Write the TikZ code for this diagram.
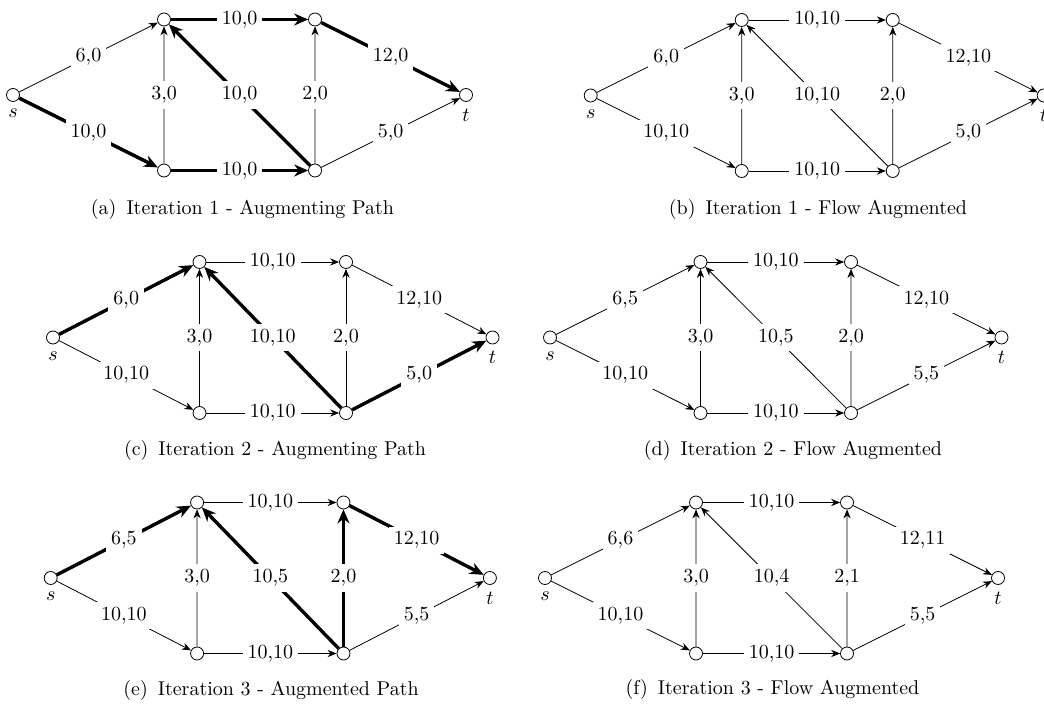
\documentclass[tikz,border=0pt]{standalone}
\usetikzlibrary{arrows.meta}

\tikzset{
  sommet/.style={circle, draw, fill=white, inner sep=0pt, minimum size=6.5pt},
  flux/.style={fill=white, inner sep=2.5pt},
  arete/.style={-{Stealth[length=4.5pt, width=3.6pt]}},
  chemin/.style={line width=1.7pt, -{Stealth[length=7pt, width=6pt]}},
  e sa/.style={}, e sb/.style={}, e ba/.style={},
  e da/.style={}, e ac/.style={}, e bd/.style={},
  e dc/.style={}, e ct/.style={}, e dt/.style={}
}

% un reseau : les 9 flux dans l'ordre sa, sb, ba, da, ac, bd, dc, ct, dt
\newcommand{\reseau}[9]{
  \node[sommet, label=below:$s$] (s) at (0,0) {};
  \node[sommet] (h1) at (150,-75.5) {};
  \node[sommet] (b1) at (150,75.5) {};
  \node[sommet] (h2) at (300,-75.5) {};
  \node[sommet] (b2) at (300,75.5) {};
  \node[sommet, label=below:$t$] (t) at (450,0) {};
  \draw[arete, e sa] (s) -- node[flux] {#1} (h1);
  \draw[arete, e sb] (s) -- node[flux] {#2} (b1);
  \draw[arete, e ba] (b1) -- node[flux] {#3} (h1);
  \draw[arete, e da] (b2) -- node[flux] {#4} (h1);
  \draw[arete, e ac] (h1) -- node[flux] {#5} (h2);
  \draw[arete, e bd] (b1) -- node[flux] {#6} (b2);
  \draw[arete, e dc] (b2) -- node[flux] {#7} (h2);
  \draw[arete, e ct] (h2) -- node[flux] {#8} (t);
  \draw[arete, e dt] (b2) -- node[flux] {#9} (t);
}

\begin{document}
\begin{tikzpicture}[x=0.5pt, y=-0.5pt]
  \useasboundingbox (0,0) rectangle (1044,704);

  % Iteration 1
  \begin{scope}[shift={(13,95)}, xscale=1.0067, name prefix=a-,
      e sb/.style=chemin, e bd/.style=chemin, e da/.style=chemin,
      e ac/.style=chemin, e ct/.style=chemin]
    \reseau{6,0}{10,0}{3,0}{10,0}{10,0}{10,0}{2,0}{12,0}{5,0}
  \end{scope}
  \node (capa) at (242.5,210) {(a)\enspace Iteration 1 - Augmenting Path};

  \begin{scope}[shift={(590.7,95.5)}, xscale=1.0067, name prefix=b-]
    \reseau{6,0}{10,10}{3,0}{10,10}{10,10}{10,10}{2,0}{12,10}{5,0}
  \end{scope}
  \node (capb) at (818,210) {(b)\enspace Iteration 1 - Flow Augmented};

  % Iteration 2
  \begin{scope}[shift={(53,337.5)}, xscale=0.9767, name prefix=c-,
      e sa/.style=chemin, e da/.style=chemin, e dt/.style=chemin]
    \reseau{6,0}{10,10}{3,0}{10,10}{10,10}{10,10}{2,0}{12,10}{5,0}
  \end{scope}
  \node (capc) at (275,450.5) {(c)\enspace Iteration 2 - Augmenting Path};

  \begin{scope}[shift={(550,337.5)}, xscale=1.0033, name prefix=d-]
    \reseau{6,5}{10,10}{3,0}{10,5}{10,10}{10,10}{2,0}{12,10}{5,5}
  \end{scope}
  \node (capd) at (793,451) {(d)\enspace Iteration 2 - Flow Augmented};

  % Iteration 3
  \begin{scope}[shift={(50.7,578)}, xscale=0.976, name prefix=e-,
      e sa/.style=chemin, e da/.style=chemin, e dc/.style=chemin,
      e ct/.style=chemin]
    \reseau{6,5}{10,10}{3,0}{10,5}{10,10}{10,10}{2,0}{12,10}{5,5}
  \end{scope}
  \node (cape) at (271,691) {(e)\enspace Iteration 3 - Augmented Path};

  \begin{scope}[shift={(545,578)}, xscale=1.0067, name prefix=f-]
    \reseau{6,6}{10,10}{3,0}{10,4}{10,10}{10,10}{2,1}{12,11}{5,5}
  \end{scope}
  \node (capf) at (772.5,690) {(f)\enspace Iteration 3 - Flow Augmented};
\end{tikzpicture}
\end{document}
